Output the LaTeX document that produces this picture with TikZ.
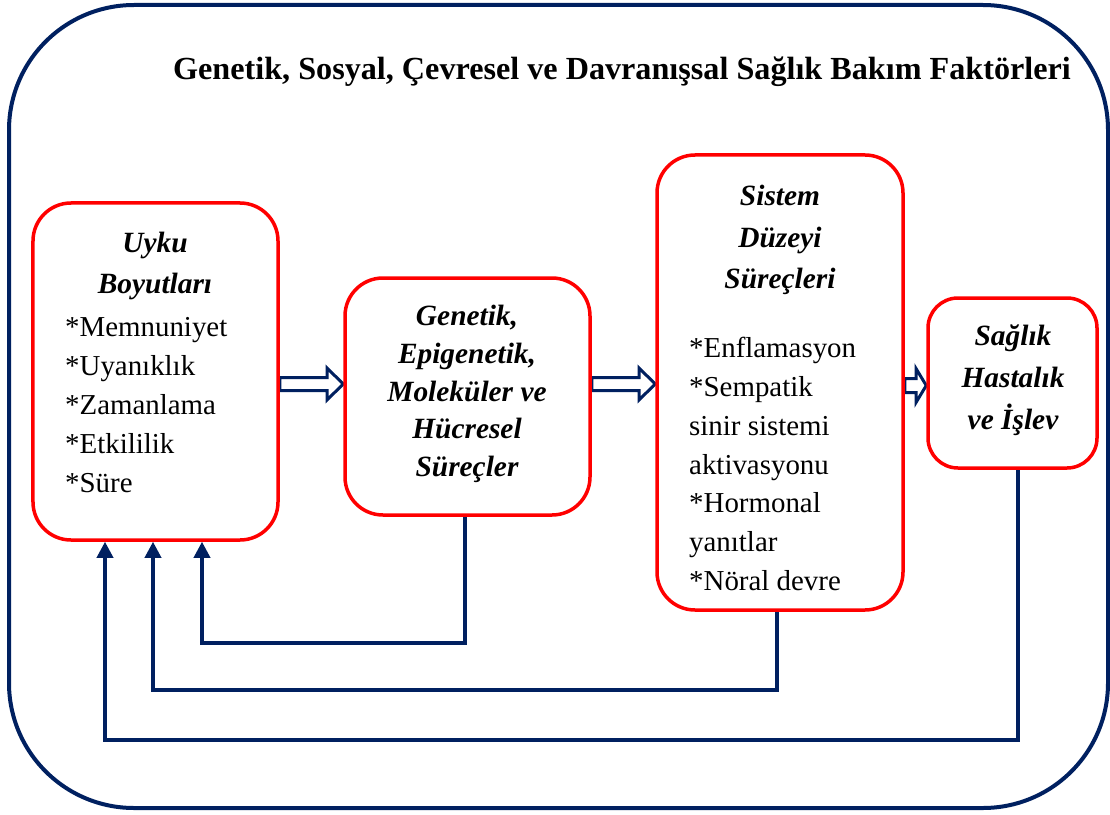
\documentclass[tikz,border=0pt]{standalone}
\usepackage{fontspec}
\setmainfont{Liberation Serif}
\usetikzlibrary{arrows.meta,calc,backgrounds}
\definecolor{navy}{HTML}{002060}
\definecolor{boxred}{HTML}{FF0000}
\begin{document}
\begin{tikzpicture}[x=1bp,y=-1bp,
  box/.style={draw=boxred, line width=3.5bp, fill=white, inner sep=0pt},
  fb/.style={draw=navy, line width=3.5bp, -{Triangle[width=16bp,length=16bp]}},
  hol/.style={draw=navy, line width=3bp, fill=white, line join=miter},
  head/.style={font=\fontsize{29.5}{42}\selectfont\bfseries\itshape, align=center, inner sep=0pt},
  item/.style={font=\fontsize{29}{39}\selectfont, align=left, inner sep=0pt},
]
\useasboundingbox (0,0) rectangle (1110,815);
\draw[navy, line width=4bp, rounded corners=125bp] (9,5) rectangle (1108,808);

\node[font=\fontsize{32.3}{36}\selectfont\bfseries, inner sep=0pt] (title) at (622,72)
  {Genetik, Sosyal, Çevresel ve Davranışsal Sağlık Bakım Faktörleri};

% boxes
\node[box, rounded corners=38bp, minimum width=245bp, minimum height=337bp] (b1) at (155.5,371.5) {};
\node[box, rounded corners=38bp, minimum width=245bp, minimum height=237bp] (b2) at (467.5,396.5) {};
\node[box, rounded corners=38bp, minimum width=246bp, minimum height=455bp] (b3) at (780,382.5) {};
\node[box, rounded corners=30bp, minimum width=169bp, minimum height=170bp] (b4) at (1012.5,383) {};

% texts
\node[head] (t1h) at (155,266) {Uyku\\Boyutları};
\node[item, anchor=west] (t1i) at (65,405)
  {*Memnuniyet\\*Uyanıklık\\*Zamanlama\\*Etkililik\\*Süre};
\node[head, font=\fontsize{29.5}{38}\selectfont\bfseries\itshape] (t2) at (467,394)
  {Genetik,\\Epigenetik,\\Moleküler ve\\Hücresel\\Süreçler};
\node[head] (t3h) at (780,240) {Sistem\\Düzeyi\\Süreçleri};
\node[item, anchor=west] (t3i) at (689,464)
  {*Enflamasyon\\*Sempatik\\sinir sistemi\\aktivasyonu\\*Hormonal\\yanıtlar\\*Nöral devre};
\node[head] (t4) at (1013,380) {Sağlık\\Hastalık\\ve İşlev};

\begin{pgfonlayer}{background}
% hollow forward arrows
\draw[hol] (b1.east |- 0,377.5) -- (327,377.5) -- (327,368) -- (b2.west |- 0,384)
  -- (327,400) -- (327,390.5) -- (b1.east |- 0,390.5) -- cycle;
\draw[hol] (b2.east |- 0,377.5) -- (639,377.5) -- (639,368) -- (b3.west |- 0,384)
  -- (639,400) -- (639,390.5) -- (b2.east |- 0,390.5) -- cycle;
\draw[hol] (b3.east |- 0,378.5) -- (916,378.5) -- (916,368.5) -- (b4.west |- 0,385.5)
  -- (916,402.5) -- (916,392.5) -- (b3.east |- 0,392.5) -- cycle;
% feedback lines
\draw[fb] (b2.south -| 465,0) |- (202,643) -- (b1.south -| 202,0);
\draw[fb] (b3.south -| 777,0) |- (153,690) -- (b1.south -| 153,0);
\draw[fb] (b4.south -| 1018,0) |- (105,740) -- (b1.south -| 105,0);
\end{pgfonlayer}
\end{tikzpicture}
\end{document}
